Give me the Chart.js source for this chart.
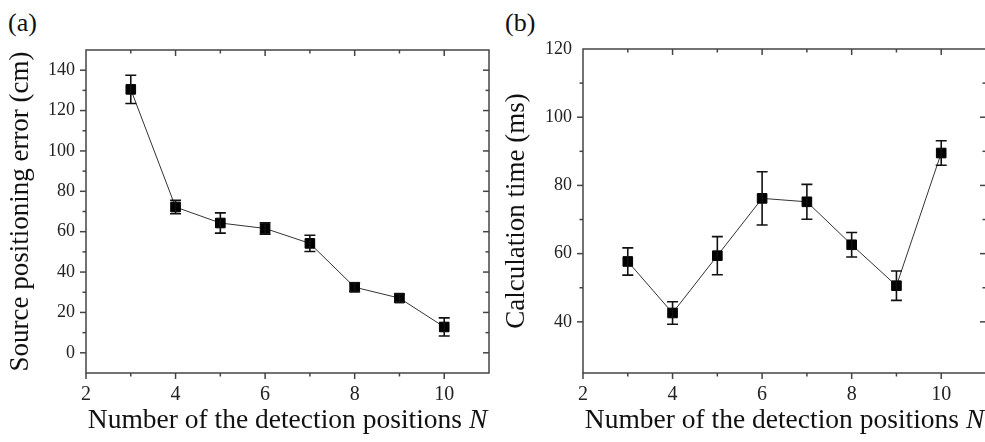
<!DOCTYPE html>
<html>
<head>
<meta charset="utf-8">
<script src="https://cdn.jsdelivr.net/npm/chart.js@4.4.1/dist/chart.umd.min.js"></script>
<style>
  html, body { margin: 0; padding: 0; width: 985px; height: 442px; overflow: hidden; background: #fff; }
  canvas { position: absolute; top: 0; }
  #chartA { left: 0; }
  #chartB { left: 492px; }
  .tag { position: absolute; font-family: 'Liberation Serif', serif; font-size: 26px; line-height: 1; color: #111; }
</style>
</head>
<body>
<div class="tag" style="left:8px;top:10px">(a)</div>
<div class="tag" style="left:505px;top:10px">(b)</div>
<canvas id="chartA" width="492" height="442"></canvas>
<canvas id="chartB" width="496" height="442"></canvas>
<script>
// number of detection positions N
const nValues = [3, 4, 5, 6, 7, 8, 9, 10];
// (a) source positioning error, cm, with error bar half-widths
const posError = [130.5, 72.2, 64.3, 61.6, 54.2, 32.5, 27.1, 12.8];
const posErrorBar = [7, 3.3, 5, 2.8, 4, 2.2, 2, 4.5];
// (b) calculation time, ms, with error bar half-widths
const calcTime = [57.7, 42.6, 59.4, 76.2, 75.2, 62.6, 50.6, 89.5];
const calcTimeBar = [4, 3.3, 5.6, 7.8, 5.1, 3.6, 4.3, 3.6];

const xTickLabels = [2, 4, 6, 8, 10];
const posTickLabels = [0, 20, 40, 60, 80, 100, 120, 140];
const timeTickLabels = [40, 60, 80, 100, 120];

const serif = "'Liberation Serif', 'Times New Roman', serif";
const axisColor = '#444';

// vertical error bars with caps
const errorBars = {
  id: 'errorBars',
  afterDatasetsDraw(chart, args, opts) {
    const { ctx, scales: { x, y } } = chart;
    const pts = chart.data.datasets[0].data;
    ctx.save();
    ctx.strokeStyle = '#111';
    ctx.lineWidth = 1.6;
    opts.values.forEach((e, i) => {
      const px = x.getPixelForValue(pts[i].x);
      const hi = y.getPixelForValue(pts[i].y + e);
      const lo = y.getPixelForValue(pts[i].y - e);
      ctx.beginPath();
      ctx.moveTo(px, hi); ctx.lineTo(px, lo);
      ctx.moveTo(px - 5.5, hi); ctx.lineTo(px + 5.5, hi);
      ctx.moveTo(px - 5.5, lo); ctx.lineTo(px + 5.5, lo);
      ctx.stroke();
    });
    ctx.restore();
  }
};

// closed frame, outward ticks on left/bottom, inward ticks on top/right, x title with italic N
const frame = {
  id: 'frame',
  afterDraw(chart, args, opts) {
    const { ctx, chartArea: a, scales: { x, y } } = chart;
    const seg = (x1, y1, x2, y2) => { ctx.beginPath(); ctx.moveTo(x1, y1); ctx.lineTo(x2, y2); ctx.stroke(); };
    ctx.save();
    ctx.strokeStyle = axisColor;
    ctx.lineWidth = 1.5;
    ctx.strokeRect(a.left, a.top, a.right - a.left, a.bottom - a.top);
    x.ticks.forEach(t => {
      if (t.value >= x.max) return;
      const px = x.getPixelForValue(t.value);
      const len = t.value % 2 === 0 ? 6 : 3.5;
      seg(px, a.bottom, px, a.bottom + len);
      if (t.value > x.min) seg(px, a.top, px, a.top + len);
    });
    y.ticks.forEach(t => {
      if (t.value % 10 !== 0 || t.value <= y.min || t.value >= y.max) return;
      const py = y.getPixelForValue(t.value);
      const len = t.value % 20 === 0 ? 6 : 3.5;
      seg(a.left - len, py, a.left, py);
      seg(a.right - len, py, a.right, py);
    });

    const main = 'Number of the detection positions ';
    ctx.fillStyle = '#111';
    ctx.textBaseline = 'alphabetic';
    ctx.font = '27.5px ' + serif;
    const w1 = ctx.measureText(main).width;
    ctx.font = 'italic 27.5px ' + serif;
    const w2 = ctx.measureText('N').width;
    const cx = (a.left + a.right) / 2;
    const start = cx - (w1 + w2) / 2;
    const base = opts.baseline;
    ctx.font = '27.5px ' + serif;
    ctx.fillText(main, start, base);
    ctx.font = 'italic 27.5px ' + serif;
    ctx.fillText('N', start + w1, base);
    ctx.restore();
  }
};

function makePanel(id, values, bars, yMin, yMax, yLabels, yTitle, yWidth, titlePad, pad) {
  return new Chart(document.getElementById(id), {
    type: 'line',
    data: {
      datasets: [{
        data: nValues.map((n, i) => ({ x: n, y: values[i] })),
        borderColor: '#333',
        borderWidth: 1,
        pointStyle: 'rect',
        pointRadius: 6.8,
        pointBackgroundColor: '#000',
        pointBorderColor: '#000',
        pointBorderWidth: 1,
        tension: 0
      }]
    },
    options: {
      responsive: false,
      animation: false,
      layout: { padding: pad, autoPadding: false },
      plugins: {
        legend: { display: false },
        tooltip: { enabled: false },
        errorBars: { values: bars },
        frame: { baseline: 428 }
      },
      scales: {
        x: {
          type: 'linear',
          min: 2,
          max: 11,
          grid: { display: false, drawTicks: false },
          border: { display: false },
          ticks: {
            stepSize: 1,
            autoSkip: false,
            maxRotation: 0,
            padding: 10,
            color: '#222',
            font: { family: serif, size: 20 },
            callback: v => xTickLabels.includes(v) ? v : ''
          },
          afterFit: s => { s.height = 69; s.paddingLeft = 0; s.paddingRight = 0; }
        },
        y: {
          min: yMin,
          max: yMax,
          grid: { display: false, drawTicks: false },
          border: { display: false },
          ticks: {
            stepSize: 10,
            autoSkip: false,
            padding: 11,
            color: '#222',
            font: { family: serif, size: 18 },
            callback: v => yLabels.includes(v) ? v : ''
          },
          title: {
            display: true,
            text: yTitle,
            color: '#111',
            font: { family: serif, size: 27, lineHeight: 1.2 },
            padding: { top: titlePad, bottom: 0 }
          },
          afterFit: s => { s.width = yWidth; }
        }
      }
    },
    plugins: [errorBars, frame]
  });
}

makePanel('chartA', posError, posErrorBar, -10, 150, posTickLabels,
  'Source positioning error (cm)', 86, 5, { top: 50, right: 3, left: 0, bottom: 0 });
makePanel('chartB', calcTime, calcTimeBar, 25, 120, timeTickLabels,
  'Calculation time (ms)', 91, 9, { top: 49, right: 2, left: 0, bottom: 0 });
</script>
</body>
</html>
